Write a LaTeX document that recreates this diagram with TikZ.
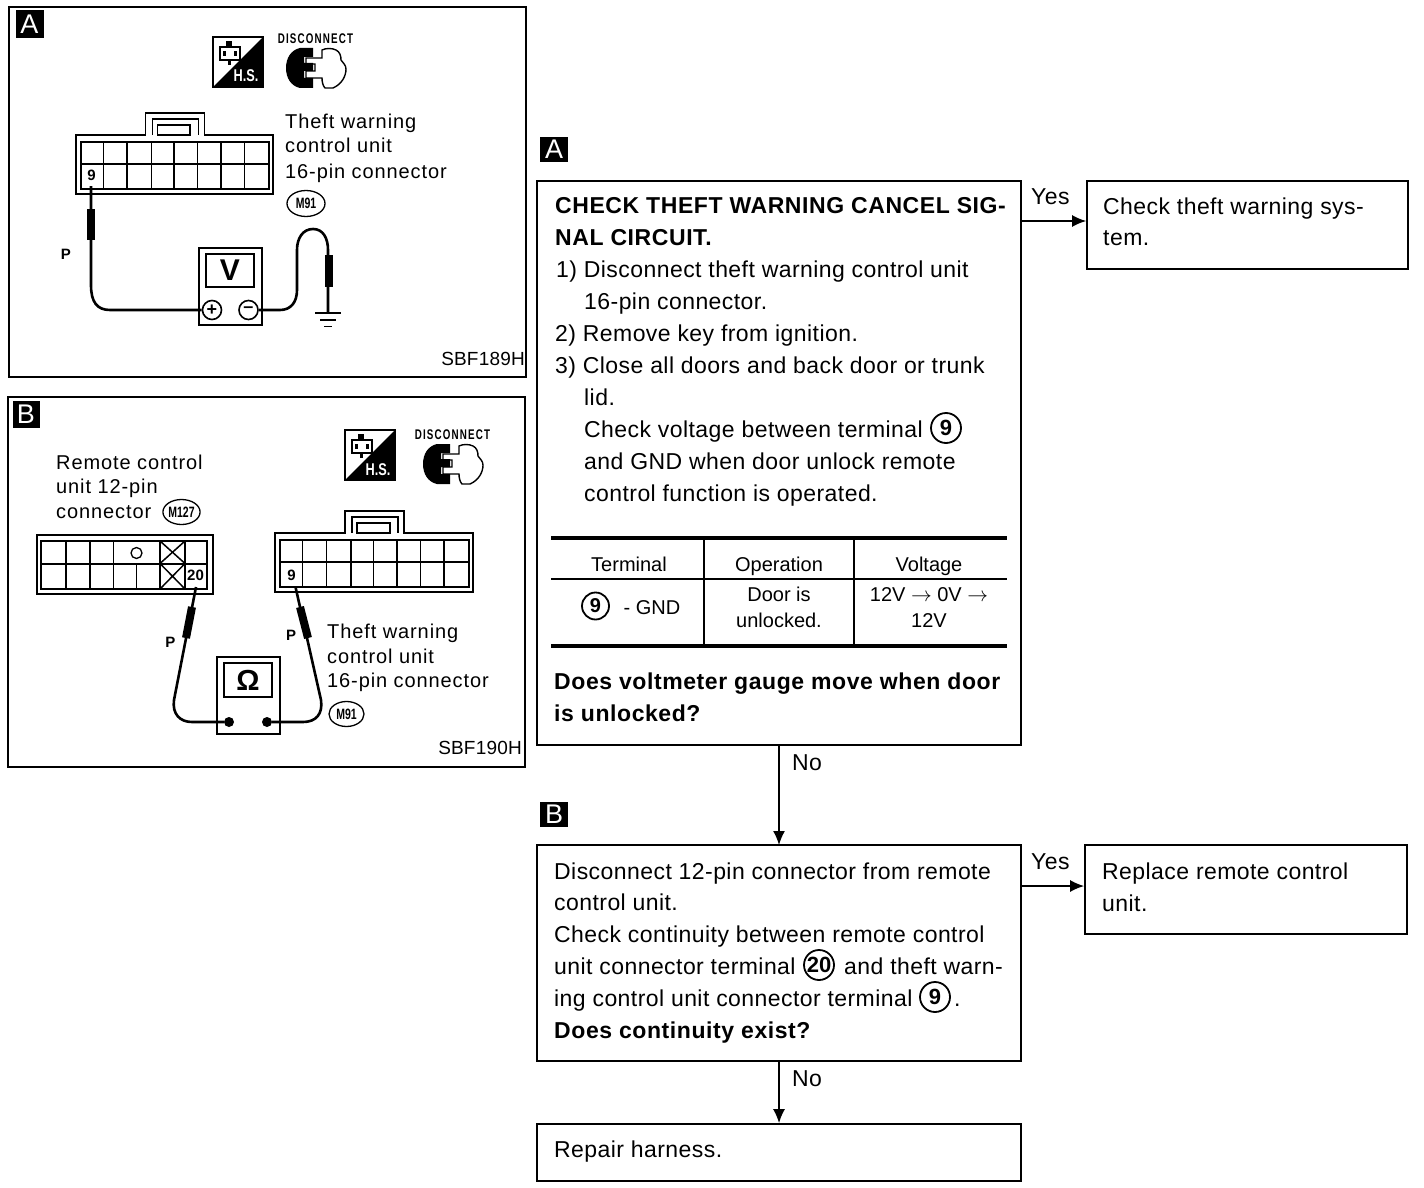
\documentclass[tikz,border=0pt]{standalone}
\usepackage{fontspec}
\setmainfont{Liberation Sans}
\usetikzlibrary{arrows.meta,shapes.geometric}
\newcommand{\bodyfs}{\fontsize{23}{32}\selectfont\addfontfeature{LetterSpace=1.9}}
\newcommand{\bodybf}{\fontsize{23}{32}\selectfont\bfseries\addfontfeature{LetterSpace=2.5}}
\newcommand{\figfs}{\fontsize{20}{24}\selectfont\addfontfeature{LetterSpace=4.5}}
\newcommand{\tabfs}{\fontsize{20}{26}\selectfont}
\newcommand{\smallfs}{\fontsize{14}{14}\selectfont\bfseries\addfontfeature{LetterSpace=12}}
\newcommand{\narrowtxt}[1]{\scalebox{0.7}[1]{#1}}
\tikzset{
  x=1pt,y=-1pt,
  box/.style={draw,line width=1.8pt},
  link/.style={draw,line width=1.5pt,-{Latex[length=14pt,width=12pt]}},
  txt/.style={anchor=base west,inner sep=0pt,font=\bodyfs},
  btxt/.style={anchor=base west,inner sep=0pt,font=\bodybf},
  ftxt/.style={anchor=base west,inner sep=0pt,font=\figfs},
  ctxt/.style={anchor=base,inner sep=0pt,align=center,font=\tabfs},
  lab/.style={fill=black,text=white,minimum width=27pt,minimum height=27pt,inner sep=0pt,font=\fontsize{27}{27}\selectfont},
  circ/.style={draw,circle,line width=1.8pt,inner sep=0pt,minimum size=30pt,font=\fontsize{22}{22}\selectfont\bfseries},
  tagmark/.style={draw,ellipse,line width=1.3pt,inner sep=0pt,minimum width=38pt,minimum height=26pt,font=\fontsize{15}{15}\selectfont\bfseries},
  wire/.style={line width=2.6pt,line join=round},
  probe/.style={line width=8pt},
  thin line/.style={line width=1.5pt},
  heavy/.style={line width=3.2pt},
  code/.style={anchor=base east,inner sep=0pt,font=\fontsize{19}{19}\selectfont\addfontfeature{LetterSpace=1}},
  pinlab/.style={inner sep=1pt,font=\fontsize{15}{15}\selectfont\bfseries},
  terminal/.style={draw,circle,line width=1.6pt,minimum size=19pt,inner sep=0pt,font=\fontsize{18}{18}\selectfont\bfseries},
}
\newcommand{\hsicon}[1]{%
 \begin{scope}[shift={(#1)}]
  \draw[line width=1.5pt] (0,0) rectangle (50,50);
  \fill (50,0) -- (50,50) -- (0,50) -- cycle;
  \draw[line width=1.5pt] (7,10) -- (27,10) -- (27,23) -- (7,23) -- cycle;
  \fill (13,4) rectangle (19,10);
  \fill (10,14) rectangle (13,19);
  \fill (21,14) rectangle (24,19);
  \fill (15,23) rectangle (18,28);
  \node[anchor=base,text=white,inner sep=0pt,font=\fontsize{17}{17}\selectfont\bfseries] at (33,45) {\scalebox{0.75}[1]{H.S.}};
 \end{scope}}
\newcommand{\discicon}[1]{%
 \begin{scope}[shift={(#1)}]
  \fill (0,20) .. controls (0,10) and (5,2) .. (14,0) -- (27,0) -- (27,9) -- (18,9) -- (18,15) -- (27,15) -- (27,23) -- (18,23) -- (18,30) -- (27,30) -- (27,40) -- (14,40) .. controls (5,38) and (0,30) .. (0,20) -- cycle;
  \draw[line width=1.4pt] (20,10) -- (36,10) -- (36,2) .. controls (40,0) and (46,0) .. (50,2) .. controls (54,4) and (55,8) .. (55,12) .. controls (57,15) and (60,17) .. (60,21) .. controls (60,28) and (56,36) .. (47,40) -- (39,40) .. controls (37,38) and (36,34) .. (36,30) -- (20,30) -- (20,23) -- (29,23) -- (29,16) -- (20,16) -- cycle;
 \end{scope}}
\newcommand{\tabbed}[2]{%
 \begin{scope}[shift={(#1)},xscale=#2]
  \draw[line width=1.6pt] (0,22) -- (68,22) -- (68,0) -- (126,0) -- (126,22) -- (193,22) -- (193,81) -- (0,81) -- cycle;
  \draw[line width=1.6pt] (75,22) -- (75,6) -- (120,6) -- (120,22);
  \draw[line width=1.6pt] (80,22) -- (80,12) -- (112,12) -- (112,22) -- cycle;
  \draw[line width=2pt] (5,29) rectangle (189,76);
  \draw[line width=2pt] (5,51) -- (189,51);
  \foreach \vx in {27,50,74,96,119,142,165}{\draw[line width=1.5pt] (\vx,29) -- (\vx,76);}
 \end{scope}}
\begin{document}
\begin{tikzpicture}
\useasboundingbox (0,0) rectangle (1424,1188);
\fill[white] (0,0) rectangle (1424,1188);

% ---- panel A
\draw[box] (9,7) rectangle (526,377);
\node[lab,minimum width=28pt,minimum height=28pt] (pa) at (29.5,24) {A};
\hsicon{213,37}
\discicon{286,48}
\node[inner sep=0pt,font=\smallfs] (pad) at (315.5,38.5) {\narrowtxt{DISCONNECT}};
\tabbed{76,113}{1.02}
\node[pinlab,fill=white] (pa9) at (91.5,175) {9};
\node[ftxt] (pat1) at (285,129) {Theft warning};
\node[ftxt] (pat2) at (285,153) {control unit};
\node[ftxt] (pat3) at (285,178) {16-pin connector};
\node[tagmark] (pam) at (306,203.5) {\narrowtxt{M91}};
\node[pinlab] (pap) at (66,254) {P};
\node[draw,thin line,minimum width=63pt,minimum height=77pt,inner sep=0pt] (vm) at (230.5,286.5) {};
\node[draw,thin line,minimum width=48pt,minimum height=33pt,inner sep=0pt,font=\fontsize{30}{30}\selectfont\bfseries] (vs) at (230,270.5) {V};
\node[terminal] (vp) at (212,310) {+};
\node[terminal] (vn) at (248.5,310) {--};
\coordinate (gt) at (328,313);
\coordinate (pt1) at (91,186);
\draw[wire] (pt1) -- (91,285) .. controls (91,302) and (97,310) .. (110,310) -- (vp.west);
\draw[probe] (91,209) -- (91,240);
\draw[wire] (vn.east) -- (280,310) .. controls (291,310) and (297,302) .. (297,290) -- (297,250) .. controls (297,238) and (303,229) .. (313,229) .. controls (323,229) and (328,238) .. (328,250) -- (gt);
\draw[probe] (329,255) -- (329,287);
\draw[line width=2.2pt] (315,313) -- (341,313);
\draw[line width=1.8pt] (320,320) -- (336,320);
\draw[line width=1.4pt] (324,326.5) -- (332,326.5);
\node[code] (pac) at (525,365) {SBF189H};

% ---- panel B
\draw[box] (8,397) rectangle (525,767);
\node[lab] (pb) at (26,414) {B};
\hsicon{345,430}
\discicon{423,444}
\node[inner sep=0pt,font=\smallfs] (pbd) at (452.5,435) {\narrowtxt{DISCONNECT}};
\node[ftxt] (pbt1) at (56,469) {Remote control};
\node[ftxt] (pbt2) at (56,493) {unit 12-pin};
\node[ftxt] (pbt3) at (56,518) {connector};
\node[tagmark,minimum width=37pt,minimum height=25pt] (pbm1) at (181.5,512) {\narrowtxt{M127}};
% 12-pin connector
\draw[line width=1.6pt] (37,535) rectangle (213,594);
\draw[line width=2pt] (41,541) rectangle (207,589);
\draw[line width=2pt] (41,563.5) -- (207,563.5);
\foreach \vx in {66,90,113.5,185}{\draw[line width=1.5pt] (\vx,541) -- (\vx,589);}
\draw[line width=1.5pt] (136.5,563.5) -- (136.5,589);
\draw[line width=2.2pt] (160,541) -- (160,589);
\draw[line width=1.5pt] (160,541) -- (185,563.5) (185,541) -- (160,563.5) (160,563.5) -- (185,589) (185,563.5) -- (160,589);
\node[draw,circle,line width=1.3pt,minimum size=11pt,inner sep=0pt] (pbo) at (136.5,553) {};
\node[pinlab,inner sep=0pt] (pb20) at (195.5,575.5) {20};
\tabbed{275,511}{1.025}
\node[pinlab,fill=white] (pb9) at (291.5,575) {9};
\node[ftxt] (pbt4) at (327,638) {Theft warning};
\node[ftxt] (pbt5) at (327,663) {control unit};
\node[ftxt] (pbt6) at (327,687) {16-pin connector};
\node[tagmark,minimum width=35pt,minimum height=25pt] (pbm2) at (346.5,714) {\narrowtxt{M91}};
\node[pinlab] (pbp1) at (170.5,642) {P};
\node[pinlab] (pbp2) at (291,635) {P};
\node[draw,thin line,minimum width=63pt,minimum height=77pt,inner sep=0pt] (om) at (248.5,695.5) {};
\node[draw,thin line,minimum width=48pt,minimum height=34pt,inner sep=0pt,font=\fontsize{29}{29}\selectfont\bfseries] (os) at (248,680) {Ω};
\node[fill,circle,minimum size=10pt,inner sep=0pt] (od1) at (229,722) {};
\node[fill,circle,minimum size=10pt,inner sep=0pt] (od2) at (267,722) {};
\coordinate (pb20b) at (196,587);
\coordinate (pb9b) at (295.5,587);
\draw[wire] (pb20b) -- (174,700) .. controls (172,714) and (180,722) .. (192,722) -- (od1);
\draw[probe] (192,607) -- (186,638);
\draw[wire] (pb9b) -- (321,700) .. controls (323,714) and (316,722) .. (303,722) -- (od2);
\draw[probe] (300,607) -- (308,638);
\node[code] (pbc) at (522,754.5) {SBF190H};

% ---- flow chart
\node[lab,minimum height=25pt,minimum width=28pt] (la) at (554,149.5) {A};
\draw[box] (537,181) rectangle (1021,745);
\node[btxt] (a1) at (555,213) {CHECK THEFT WARNING CANCEL SIG-};
\node[btxt] (a2) at (555,245) {NAL CIRCUIT.};
\node[txt] (a3) at (556,277) {1) Disconnect theft warning control unit};
\node[txt] (a4) at (584,309) {16-pin connector.};
\node[txt] (a5) at (555,341) {2) Remove key from ignition.};
\node[txt] (a6) at (555,373) {3) Close all doors and back door or trunk};
\node[txt] (a7) at (584,405) {lid.};
\node[txt] (a8) at (584,437) {Check voltage between terminal};
\node[circ] (c9a) at (946,428) {9};
\node[txt] (a9) at (584,469) {and GND when door unlock remote};
\node[txt] (a10) at (584,501) {control function is operated.};
\draw[heavy] (551,538) -- (1007,538);
\draw[line width=1.4pt] (551,579) -- (1007,579);
\draw[heavy] (551,646) -- (1007,646);
\draw[line width=1.5pt] (704,538) -- (704,646);
\draw[line width=1.5pt] (854,538) -- (854,646);
\node[ctxt] (t1) at (629,571) {Terminal};
\node[ctxt] (t2) at (779,571) {Operation};
\node[ctxt] (t3) at (929,571) {Voltage};
\node[circ,minimum size=27pt,font=\fontsize{20}{20}\selectfont\bfseries] (c9t) at (595.5,606) {9};
\node[ctxt] (t4) at (652,614) {- GND};
\node[ctxt] (t5) at (779,601) {Door is};
\node[ctxt] (t6) at (779,627) {unlocked.};
\node[ctxt] (t7) at (929,601) {12V $\rightarrow$ 0V $\rightarrow$};
\node[ctxt] (t8) at (929,627) {12V};
\node[btxt] (a11) at (554,689) {Does voltmeter gauge move when door};
\node[btxt] (a12) at (554,721) {is unlocked?};

\node[draw,line width=1.8pt,minimum width=321pt,minimum height=88pt,inner sep=0pt] (yes1) at (1247.5,225) {};
\node[txt] (y1a) at (1103,214) {Check theft warning sys-};
\node[txt] (y1b) at (1103,245) {tem.};
\coordinate (ya) at (1021,221);
\draw[link] (ya) -- (yes1.west |- ya);
\node[txt] (yl1) at (1031,204) {Yes};

\node[txt] (nl1) at (792,770) {No};
\node[lab,minimum height=25pt,minimum width=28pt] (lb) at (554,814.5) {B};

\draw[box] (537,845) rectangle (1021,1061);
\coordinate (anb) at (779,745);
\coordinate (bnt) at (779,845);
\draw[link] (anb) -- (bnt);
\node[txt] (b1) at (554,879) {Disconnect 12-pin connector from remote};
\node[txt] (b2) at (554,910) {control unit.};
\node[txt] (b3) at (554,942) {Check continuity between remote control};
\node[txt] (b4) at (554,974) {unit connector terminal};
\node[circ] (c20) at (819,965) {20};
\node[txt] (b4b) at (844,974) {and theft warn-};
\node[txt] (b5) at (554,1006) {ing control unit connector terminal};
\node[circ] (c9b) at (935,997) {9};
\node[txt] (b5b) at (954,1006) {.};
\node[btxt] (b6) at (554,1038) {Does continuity exist?};

\node[draw,line width=1.8pt,minimum width=322pt,minimum height=89pt,inner sep=0pt] (yes2) at (1246,889.5) {};
\node[txt] (y2a) at (1102,879) {Replace remote control};
\node[txt] (y2b) at (1102,911) {unit.};
\coordinate (yb) at (1021,886);
\draw[link] (yb) -- (yes2.west |- yb);
\node[txt] (yl2) at (1031,869) {Yes};

\node[draw,line width=1.8pt,minimum width=484pt,minimum height=57pt,inner sep=0pt] (rep) at (779,1152.5) {};
\coordinate (bnb) at (779,1061);
\draw[link] (bnb) -- (rep.north);
\node[txt] (nl2) at (792,1086) {No};
\node[txt] (r1) at (554,1157) {Repair harness.};
\end{tikzpicture}
\end{document}
